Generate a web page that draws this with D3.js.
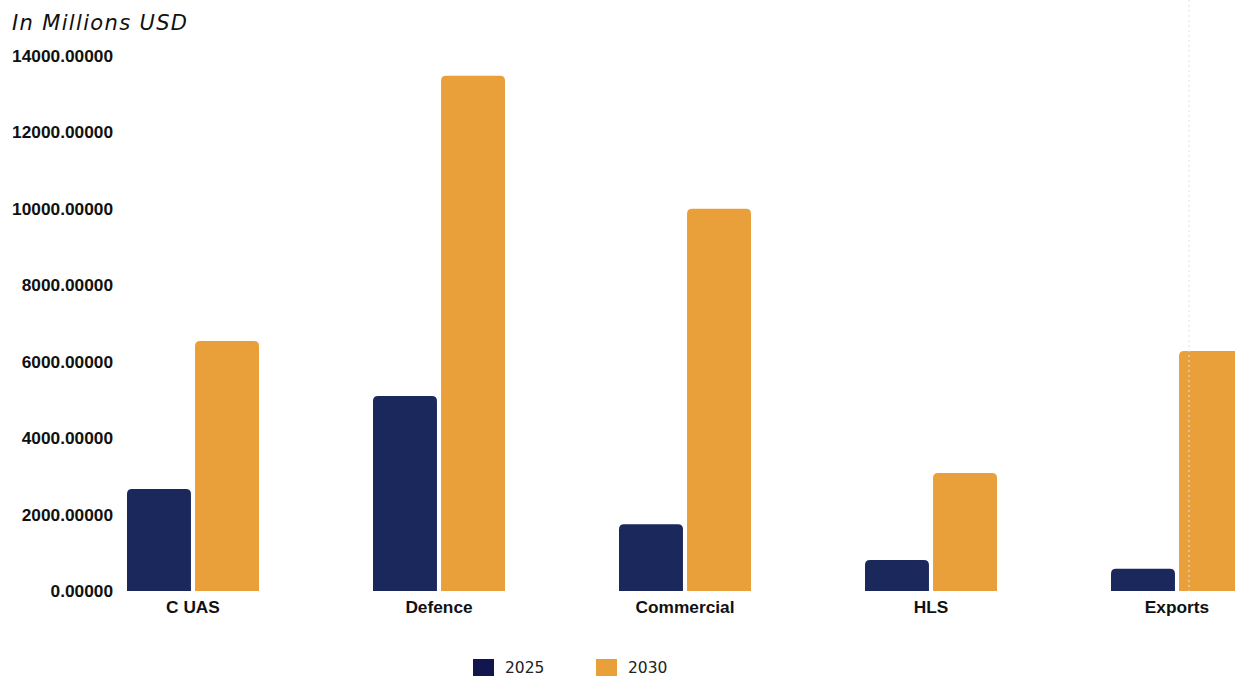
<!DOCTYPE html>
<html><head><meta charset="utf-8">
<script src="https://cdn.jsdelivr.net/npm/d3@7"></script>
<style>body{margin:0;background:#fff;overflow:hidden}svg{display:block}</style>
</head><body>
<script>
const categories = ["C UAS","Defence","Commercial","HLS","Exports"];
const seriesNames = ["2025","2030"];
const values2025 = [2670, 5100, 1750, 810, 580];
const values2030 = [6540, 13480, 10000, 3090, 6280];
const yTicks = [0,2000,4000,6000,8000,10000,12000,14000];
const colors = ["#1b285c","#e9a03b"];
const legendColors = ["#13154f","#e9a03b"];

const W = 1235, H = 676;
const svg = d3.select("body").append("svg").attr("width",W).attr("height",H);

const x = d3.scaleBand().domain(categories).range([70,1300]).paddingInner(0).paddingOuter(0);
const xs = d3.scaleBand().domain(seriesNames).range([x.bandwidth()/2-66, x.bandwidth()/2+66]).paddingInner(0.06);
const y = d3.scaleLinear().domain([0,14000]).range([591,56]);

svg.append("text").attr("x",12).attr("y",30)
  .attr("font-family","DejaVu Sans").attr("font-style","italic").attr("font-size",21)
  .attr("textLength",175).attr("lengthAdjust","spacing")
  .attr("fill","#111").text("In Millions USD");

const yAxis = svg.append("g").attr("transform","translate(113,0)")
  .call(d3.axisLeft(y).tickValues(yTicks).tickFormat(d=>d3.format(".5f")(d)).tickSize(0).tickPadding(0));
yAxis.select(".domain").remove();
yAxis.selectAll("text").attr("font-family","Liberation Sans, Arial").attr("font-weight","bold")
  .attr("font-size",17.3).attr("fill","#111");

const xAxis = svg.append("g").attr("transform","translate(0,591)")
  .call(d3.axisBottom(x).tickSize(0).tickPadding(10));
xAxis.select(".domain").remove();
xAxis.selectAll("text").attr("font-family","Liberation Sans, Arial").attr("font-weight","bold")
  .attr("font-size",17.3).attr("fill","#111");

function topRounded(x0,y0,w,h,r){
  r=Math.min(r,h,w/2);
  return `M${x0},${y0+h}V${y0+r}Q${x0},${y0} ${x0+r},${y0}H${x0+w-r}Q${x0+w},${y0} ${x0+w},${y0+r}V${y0+h}Z`;
}
const data = categories.map((c,i)=>({cat:c, vals:[values2025[i],values2030[i]]}));
const groups = svg.append("g").selectAll("g").data(data).join("g")
  .attr("transform",d=>`translate(${x(d.cat)},0)`);
groups.selectAll("path").data(d=>d.vals.map((v,j)=>({v,s:seriesNames[j],j})))
  .join("path")
  .attr("d",d=>topRounded(xs(d.s), y(d.v), xs.bandwidth(), y(0)-y(d.v), 5))
  .attr("fill",d=>colors[d.j]);

svg.append("line").attr("x1",1189).attr("x2",1189).attr("y1",0).attr("y2",591)
  .attr("stroke","#e2e2e2").attr("stroke-width",1).attr("stroke-dasharray","2,3");

const leg = svg.append("g");
const legX = [473,596];
seriesNames.forEach((s,i)=>{
  leg.append("rect").attr("x",legX[i]).attr("y",659).attr("width",21).attr("height",20).attr("fill",legendColors[i]);
  leg.append("text").attr("x",legX[i]+32).attr("y",673).attr("font-family","DejaVu Sans")
    .attr("font-size",15.5).attr("fill","#222").text(s);
});
</script>
</body></html>
